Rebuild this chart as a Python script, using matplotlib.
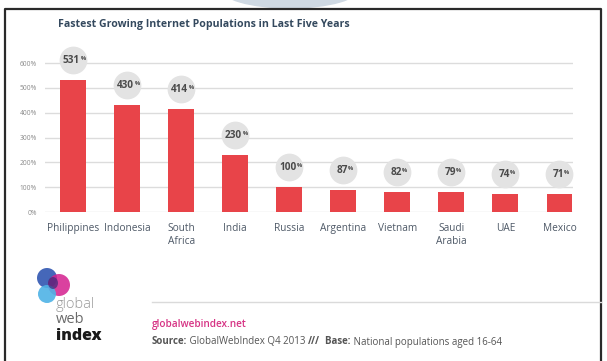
import matplotlib
matplotlib.use("Agg")
import matplotlib.pyplot as plt
from matplotlib.patches import Ellipse
from matplotlib.lines import Line2D
from matplotlib.transforms import offset_copy

plt.rcParams['font.family'] = ['Open Sans', 'DejaVu Sans']

countries = ['Philippines', 'Indonesia', 'South\nAfrica', 'India', 'Russia',
             'Argentina', 'Vietnam', 'Saudi\nArabia', 'UAE', 'Mexico']
growth = [531, 430, 414, 230, 100, 87, 82, 79, 74, 71]
yticks = [0, 100, 200, 300, 400, 500, 600]
ytick_labels = ['0%', '100%', '200%', '300%', '400%', '500%', '600%']

title = 'Fastest Growing Internet Populations in Last Five Years'
site = 'globalwebindex.net'
source_parts = [('Source:', 'bold'), (' GlobalWebIndex Q4 2013 ', 'normal'),
                ('///', 'bold'), ('  Base:', 'bold'),
                (' National populations aged 16-64', 'normal')]

W, H = 607, 361
fig = plt.figure(figsize=(W / 100, H / 100), dpi=100)
fig.patch.set_facecolor('white')

def fx(px):
    return px / W

def fy(py):
    return 1 - py / H

# pale shape peeking above the frame
fig.add_artist(Ellipse((fx(290), fy(-12)), fx(140), 40 / H,
                       color='#cfd9e3', transform=fig.transFigure, zorder=0))
# frame (left, top, right)
fig.add_artist(Line2D([fx(5), fx(5), fx(601), fx(601)],
                      [fy(361), fy(9), fy(9), fy(361)],
                      color='#2a2a2a', lw=1.6, transform=fig.transFigure))

# axes placement in pixels
x0, x1 = 45, 573
y_zero, px_per_unit = 212, 0.248
ymax = 700
ax = fig.add_axes([fx(x0), fy(y_zero), fx(x1 - x0), ymax * px_per_unit / H])
ax.set_xlim(-0.52, len(countries) - 1 + 0.25)
ax.set_ylim(0, ymax)

x = list(range(len(countries)))
ax.bar(x, growth, width=0.48, color='#e84449', zorder=3)

for s in ax.spines.values():
    s.set_visible(False)
ax.set_yticks(yticks)
ax.set_yticklabels(ytick_labels, fontsize=4.8, color='#8a8a8a')
ax.tick_params(axis='y', length=0, pad=6)
ax.set_xticks(x)
ax.set_xticklabels(countries, fontsize=7.3, color='#4d5866', linespacing=1.25)
ax.tick_params(axis='x', length=0, pad=8)
ax.grid(axis='y', color='#dcdcdc', lw=1.0, zorder=0)
ax.set_axisbelow(True)

# bubbles with values
bubble_tr = offset_copy(ax.transData, fig=fig, y=14.5, units='points')
ax.scatter(x, growth, s=400, color='#e3e3e3', transform=bubble_tr,
           zorder=4, clip_on=False, linewidths=0)
for i, v in enumerate(growth):
    num = str(v)
    shift = 5.0 if len(num) == 3 else 3.2
    tr_n = offset_copy(ax.transData, fig=fig, x=shift, y=14.0, units='points')
    tr_p = offset_copy(ax.transData, fig=fig, x=shift + 0.3, y=15.5, units='points')
    ax.text(i, v, num, transform=tr_n, ha='right', va='center', fontsize=7.2,
            fontweight='bold', color='#4a4a4a', zorder=5, clip_on=False)
    ax.text(i, v, '%', transform=tr_p, ha='left', va='center', fontsize=4.2,
            fontweight='bold', color='#4a4a4a', zorder=5, clip_on=False)

# title
fig.text(fx(58), fy(25), title, fontsize=7.6, fontweight='bold',
         color='#34495e', va='center', ha='left')

# footer line and texts
fig.add_artist(Line2D([fx(152), fx(601)], [fy(302), fy(302)],
                      color='#dadada', lw=1.0, transform=fig.transFigure))
fig.text(fx(152), fy(324), site, fontsize=7.2, fontweight='semibold',
         color='#d63384', va='center', ha='left')

fig.canvas.draw()
renderer = fig.canvas.get_renderer()
xpos = fx(152)
for txt, wgt in source_parts:
    t = fig.text(xpos, fy(342), txt, fontsize=7.0, fontweight=wgt,
                 color='#555555', va='center', ha='left')
    bb = t.get_window_extent(renderer=renderer)
    xpos += bb.width / fig.bbox.width

# logo
logo = [((47, 278), 10, '#3b5fb5', 0.95),
        ((59, 285), 11, '#d4208e', 0.85),
        ((47, 294), 9, '#4fb3e6', 0.9)]
for (cx, cy), r, col, a in logo:
    fig.add_artist(Ellipse((fx(cx), fy(cy)), 2 * r / W, 2 * r / H,
                           color=col, alpha=a, transform=fig.transFigure,
                           lw=0))
fig.add_artist(Ellipse((fx(53), fy(283)), 10 / W, 12 / H, color='#3b2a7a',
                       alpha=0.7, transform=fig.transFigure, lw=0))
fig.text(fx(56), fy(304), 'global', fontsize=10.5, fontweight='light',
         color='#9a9a9a', va='center', ha='left')
fig.text(fx(56), fy(319.5), 'web', fontsize=10.5, fontweight='normal',
         color='#6a6a6a', va='center', ha='left')
fig.text(fx(56), fy(335.5), 'index', fontsize=11.5, fontweight='heavy',
         color='#1a1a1a', va='center', ha='left')

fig.savefig('out.png', dpi=100, facecolor='white')
